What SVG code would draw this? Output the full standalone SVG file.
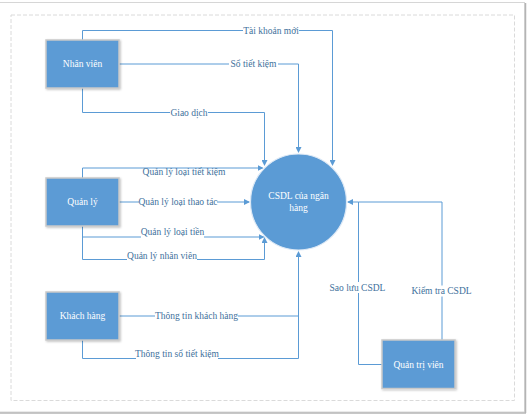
<svg xmlns="http://www.w3.org/2000/svg" width="529" height="415" viewBox="0 0 529 415">
<defs>
<marker id="arr" markerWidth="6" markerHeight="6" refX="5" refY="3" orient="auto" markerUnits="userSpaceOnUse">
<path d="M0,0 L6,3 L0,6 z" fill="#5B9BD5"/>
</marker>
<filter id="sh" x="-20%" y="-20%" width="140%" height="140%">
<feDropShadow dx="1" dy="1" stdDeviation="0.8" flood-color="#000" flood-opacity="0.25"/>
</filter>
</defs>
<style>
.box{fill:#5B9BD5;stroke:#C9C9C9;stroke-width:1.5}
.nt{font-family:"Liberation Serif","DejaVu Serif",serif;font-size:9.5px;fill:#FFFFFF;text-anchor:middle}
.ln{fill:none;stroke:#5B9BD5;stroke-width:1}
.lb{font-family:"Liberation Serif","DejaVu Serif",serif;font-size:9.5px;fill:#41719C;text-anchor:middle}
.bg{fill:#FFFFFF}
</style>
<rect x="0" y="0" width="529" height="415" fill="#FFFFFF"/>
<rect x="-2" y="2.5" width="526.5" height="409.5" fill="none" stroke="#D6D6D6" stroke-width="1"/>
<line x1="525.5" y1="3" x2="525.5" y2="413" stroke="#B4B4B4" stroke-width="1.5"/>
<line x1="0" y1="413" x2="526" y2="413" stroke="#B4B4B4" stroke-width="1.5"/>
<rect x="11" y="15" width="503.5" height="385.5" fill="none" stroke="#DADADA" stroke-width="1" stroke-dasharray="4,2"/>

<g id="connectors">
<path class="ln" d="M82.5,40 V30.5 H332.5 V165" marker-end="url(#arr)"/>
<path class="ln" d="M119,64 H298.5 V152" marker-end="url(#arr)"/>
<path class="ln" d="M82.5,88 V112.5 H264.5 V165" marker-end="url(#arr)"/>
<path class="ln" d="M82.5,178 V168 H262.5" marker-end="url(#arr)"/>
<path class="ln" d="M119,202 H249" marker-end="url(#arr)"/>
<path class="ln" d="M82.5,226 V237 H263.5" marker-end="url(#arr)"/>
<path class="ln" d="M82.5,237 V259.5 H264.5 V238" marker-end="url(#arr)"/>
<path class="ln" d="M119,316 H298.5"/>
<path class="ln" d="M82.5,340 V358.5 H298.5 V252" marker-end="url(#arr)"/>
<path class="ln" d="M382,364.5 H358.5 V202 H348" marker-end="url(#arr)"/>
<path class="ln" d="M442,340 V202 H358.5"/>

<rect class="bg" x="243" y="25" width="56" height="11"/>
<text class="lb" x="271" y="34">Tài khoản mới</text>
<rect class="bg" x="229" y="58.5" width="49" height="11"/>
<text class="lb" x="253.5" y="67">Sổ tiết kiệm</text>
<rect class="bg" x="170" y="107" width="38" height="11"/>
<text class="lb" x="189" y="115.5">Giao dịch</text>
<text class="lb" x="184" y="175">Quản lý loại tiết kiệm</text>
<rect class="bg" x="139" y="196.5" width="78" height="11"/>
<text class="lb" x="178" y="205">Quản lý loại thao tác</text>
<rect class="bg" x="141" y="227" width="63" height="12"/>
<text class="lb" x="172.5" y="235">Quản lý loại tiền</text>
<rect class="bg" x="127" y="250" width="70" height="12"/>
<text class="lb" x="162" y="258.5">Quản lý nhân viên</text>
<rect class="bg" x="155" y="310.5" width="83" height="11"/>
<text class="lb" x="196.5" y="318.5">Thông tin khách hàng</text>
<rect class="bg" x="136" y="348.5" width="82" height="12"/>
<text class="lb" x="177" y="357">Thông tin sổ tiết kiệm</text>
<rect class="bg" x="330" y="282" width="55" height="11"/>
<text class="lb" x="357.5" y="290.5">Sao lưu CSDL</text>
<rect class="bg" x="411" y="285.5" width="61" height="11"/>
<text class="lb" x="441.5" y="294">Kiểm tra CSDL</text>
</g>

<g id="nhan-vien">
<rect class="box" x="46" y="40" width="73" height="48" filter="url(#sh)"/>
<text class="nt" x="82.5" y="67">Nhân viên</text>
</g>
<g id="quan-ly">
<rect class="box" x="46" y="178" width="73" height="48" filter="url(#sh)"/>
<text class="nt" x="82.5" y="205">Quản lý</text>
</g>
<g id="khach-hang">
<rect class="box" x="46" y="292" width="73" height="48" filter="url(#sh)"/>
<text class="nt" x="82.5" y="319">Khách hàng</text>
</g>
<g id="quan-tri-vien">
<rect class="box" x="382" y="340" width="73" height="48.5" filter="url(#sh)"/>
<text class="nt" x="418.5" y="367.5">Quản trị viên</text>
</g>
<g id="csdl">
<circle cx="298.5" cy="202" r="48" fill="#5B9BD5" stroke="#DCE8F5" stroke-width="1.2"/>
<text class="nt" x="298.5" y="199">CSDL của ngân</text>
<text class="nt" x="298.5" y="210.5">hàng</text>
</g>
</svg>
